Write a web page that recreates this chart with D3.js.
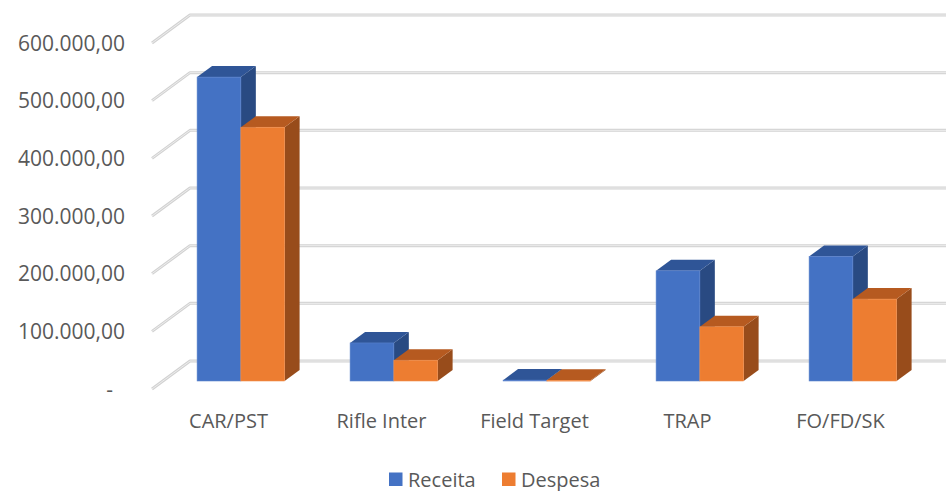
<!DOCTYPE html>
<html><head><meta charset="utf-8">
<script src="https://cdn.jsdelivr.net/npm/d3@7"></script>
<style>html,body{margin:0;padding:0;background:#fff;}svg{display:block;}</style>
</head><body>
<svg id="chart" width="946" height="491"></svg>
<script>
const categories = ["CAR/PST", "Rifle Inter", "Field Target", "TRAP", "FO/FD/SK"];
const seriesNames = ["Receita", "Despesa"];
const receita = [527000, 66000, 1500, 191000, 216000];
const despesa = [440000, 36000, 1200, 94000, 142000];
const yTicks = [0, 100000, 200000, 300000, 400000, 500000, 600000];

const colors = {
  Receita: {front: "#4472C4", top: "#2F5597", side: "#294A82", edge: "#5A82CC"},
  Despesa: {front: "#ED7D31", top: "#B65A20", side: "#984C1B", edge: "#F08D4A"}
};

const svg = d3.select("#chart");
const DX = 38, DY = -28;
const fFront = 0.286, fBack = 0.68;

const x = d3.scaleBand().domain(categories).range([152, 917]).paddingInner(0).paddingOuter(0);
const y = d3.scaleLinear().domain([0, 600000]).range([389, 43]);
const groupFrac = 0.572;
const xs = d3.scaleBand().domain(seriesNames)
  .range([x.bandwidth() * (1 - groupFrac) / 2 + 1.5, x.bandwidth() * (1 + groupFrac) / 2 + 1.5]);

const loc = d3.formatLocale({decimal: ",", thousands: ".", grouping: [3], currency: ["R$", ""]});
const fmt = v => v === 0 ? "-" : loc.format(",.2f")(v);

// gridlines (side wall + back wall)
const grid = svg.append("g");
yTicks.forEach(t => {
  const yf = y(t), yb = y(t) + DY;
  const xf = x.range()[0], xb = x.range()[0] + DX;
  const path = `M${xf},${yf}L${xb},${yb}L${x.range()[1] + DX + 20},${yb}`;
  grid.append("path").attr("d", path).attr("fill", "none")
    .attr("stroke", "#D2D2D2").attr("stroke-width", 3).attr("stroke-linejoin", "round");
  grid.append("path").attr("d", path).attr("fill", "none")
    .attr("stroke", "#EDEDED").attr("stroke-width", 1).attr("stroke-linejoin", "round");
});

// y-axis labels
svg.append("g").selectAll("text").data(yTicks).join("text")
  .attr("x", d => d === 0 ? 113 : 125)
  .attr("y", d => y(d))
  .attr("dy", "0.36em")
  .attr("text-anchor", "end")
  .attr("font-family", "'Open Sans', sans-serif")
  .attr("font-size", 21)
  .attr("fill", "#595959")
  .text(fmt);

// bars
const data = [];
categories.forEach((c, i) => {
  data.push({cat: c, s: "Receita", v: receita[i]});
  data.push({cat: c, s: "Despesa", v: despesa[i]});
});
const bars = svg.append("g");
const dxF = DX * fFront, dyF = DY * fFront;
const dDepthX = DX * (fBack - fFront), dDepthY = DY * (fBack - fFront);
data.forEach(d => {
  const x0 = x(d.cat) + xs(d.s) + dxF;
  const w = xs.bandwidth();
  const y0 = y(0) + dyF;
  const yt = y(d.v) + dyF;
  const col = colors[d.s];
  const g = bars.append("g");
  g.append("path")
    .attr("d", `M${x0 + w},${yt}L${x0 + w + dDepthX},${yt + dDepthY}L${x0 + w + dDepthX},${y0 + dDepthY}L${x0 + w},${y0}Z`)
    .attr("fill", col.side);
  g.append("path")
    .attr("d", `M${x0},${yt}L${x0 + dDepthX},${yt + dDepthY}L${x0 + w + dDepthX},${yt + dDepthY}L${x0 + w},${yt}Z`)
    .attr("fill", col.top);
  g.append("rect")
    .attr("x", x0).attr("y", yt).attr("width", w).attr("height", Math.max(0.8, y0 - yt))
    .attr("fill", col.front).attr("stroke", col.edge).attr("stroke-width", 0.6);
});

// category labels
svg.append("g").selectAll("text").data(categories).join("text")
  .attr("x", d => x(d) + x.bandwidth() / 2)
  .attr("y", 428)
  .attr("text-anchor", "middle")
  .attr("font-family", "'Open Sans', sans-serif")
  .attr("font-size", 20)
  .attr("fill", "#595959")
  .text(d => d);

// legend
const legendX = [389, 502];
const lg = svg.append("g");
seriesNames.forEach((s, i) => {
  lg.append("rect").attr("x", legendX[i]).attr("y", 472.5).attr("width", 13.5).attr("height", 13.5)
    .attr("fill", colors[s].front);
  lg.append("text").attr("x", legendX[i] + 19).attr("y", 486.5)
    .attr("font-family", "'Open Sans', sans-serif").attr("font-size", 20)
    .attr("fill", "#595959").text(s);
});
</script>
</body></html>
